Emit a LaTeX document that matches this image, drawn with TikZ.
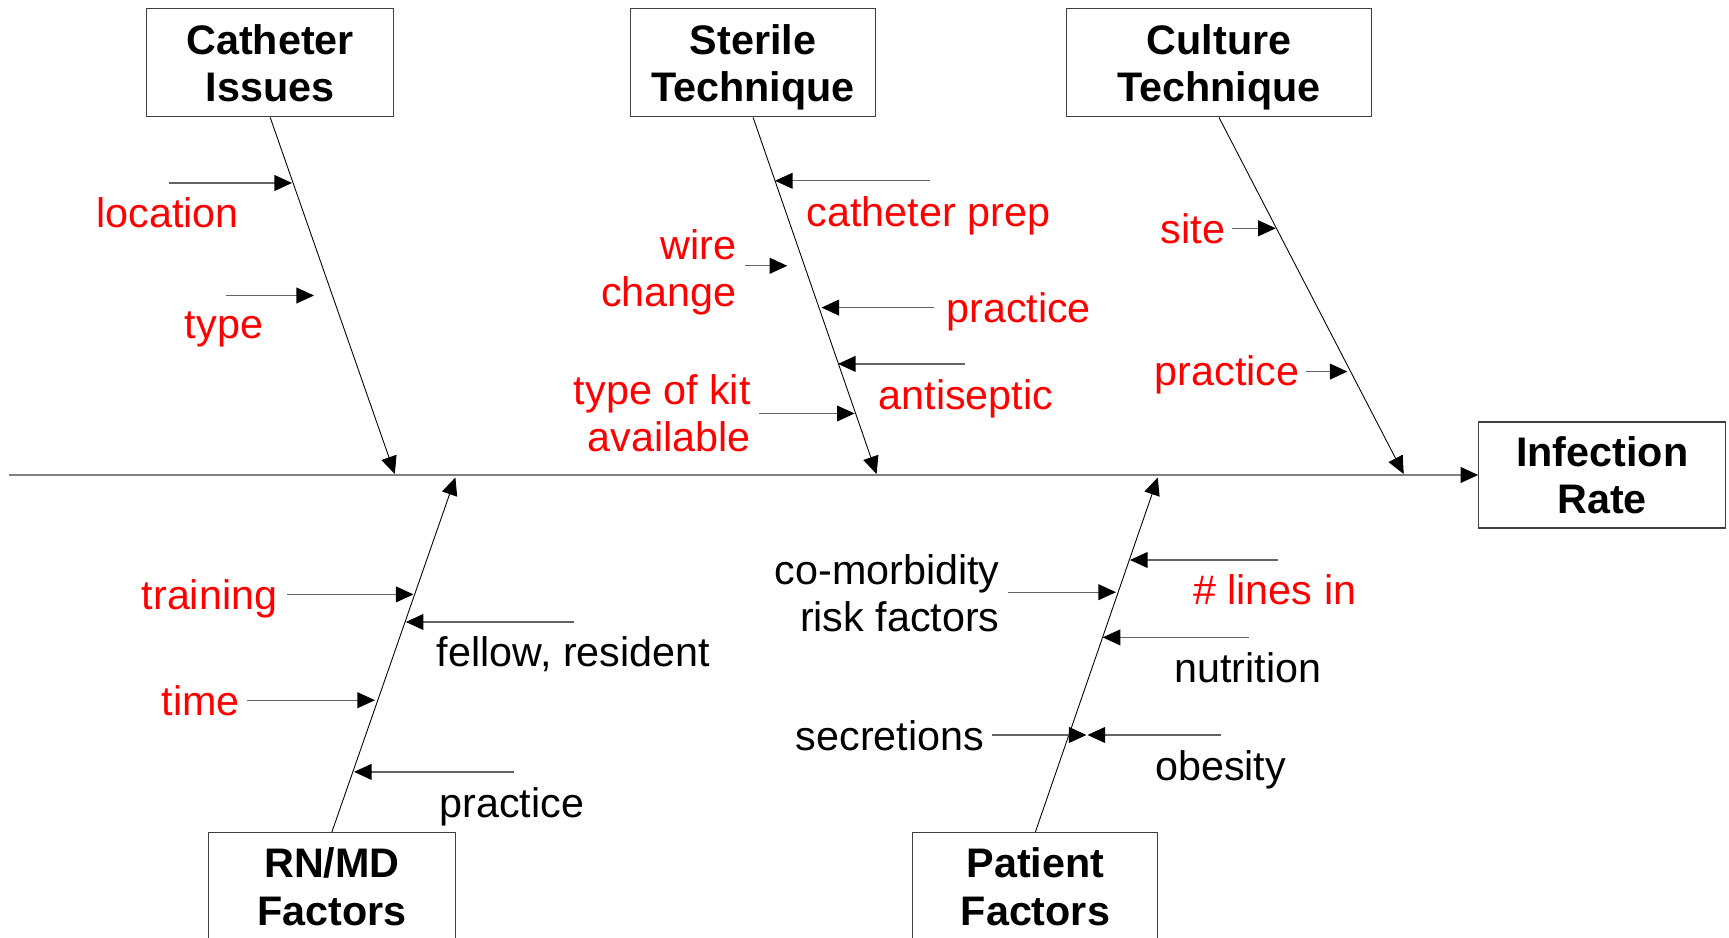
\documentclass[tikz,border=0pt]{standalone}
\usepackage{fontspec}
\setmainfont{Liberation Sans}
\usepackage{tikz}
\usetikzlibrary{arrows.meta}
\definecolor{boxline}{RGB}{64,64,64}
\definecolor{spinegray}{RGB}{128,128,128}
\definecolor{subgray}{RGB}{100,100,100}
\tikzset{
  font={\fontsize{23.5pt}{27pt}\selectfont}}

\begin{document}
\begin{tikzpicture}[scale=0.2]
\tikzstyle{every node}+=[inner sep=0pt, text depth=0pt]
\tikzstyle{cause}=[draw=boxline, line width=0.6pt, minimum width=4.94cm, minimum height=2.16cm, align=center, font={\fontsize{23.5pt}{27pt}\selectfont\bfseries}]
\tikzstyle{rlabel}=[text=red]
\tikzstyle{blabel}=[text=black]
\tikzstyle{spine}=[draw=spinegray, line width=0.8pt, -{Triangle[length=10pt,width=9pt,color=black]}]
\tikzstyle{bone}=[draw=black, line width=0.5pt, -{Triangle[length=10pt,width=9pt]}]
\tikzstyle{sub}=[draw=subgray, line width=0.7pt, -{Triangle[length=10pt,width=9pt,color=black]}]
\useasboundingbox (0,0) rectangle (172.9,-93.8);
% cause boxes
\node [cause] (cath) at (27.02,-6.29) {Catheter\\Issues};
\node [cause, minimum width=4.9cm] (ster) at (75.31,-6.29) {Sterile\\Technique};
\node [cause, minimum width=6.11cm] (cult) at (121.9,-6.29) {Culture\\Technique};
\node [cause, minimum height=2.12cm] (rate) at (160.22,-47.5) {Infection\\Rate};
\node [cause] (rnmd) at (33.19,-88.65) {RN/MD\\Factors};
\node [cause, minimum width=4.9cm] (pat) at (103.54,-88.65) {Patient\\Factors};
% spine and bones
\coordinate (head) at (0.88,-47.5);
\draw [spine] (head) -- (rate);
\coordinate (cathend) at (39.48,-47.4);
\coordinate (sterend) at (87.66,-47.4);
\coordinate (cultend) at (140.37,-47.4);
\coordinate (rnmdend) at (45.54,-47.75);
\coordinate (patend) at (115.78,-47.75);
\draw [bone] (cath.south) -- (cathend);
\draw [bone] (ster.south) -- (sterend);
\draw [bone] (cult.south) -- (cultend);
\draw [bone] (rnmd.north) -- (rnmdend);
\draw [bone] (pat.north) -- (patend);
% catheter issues
\node [rlabel] (loc) at (16.76,-21.28) {location};
\node [rlabel] (typ) at (22.4,-32.5) {type};
\coordinate (loc0) at (16.87,-18.3); \coordinate (loc1) at (29.2,-18.3);
\coordinate (typ0) at (22.6,-29.55); \coordinate (typ1) at (31.4,-29.55);
\draw [sub] (loc0) -- (loc1);
\draw [sub] (typ0) -- (typ1);
% sterile technique
\node [rlabel] (prep) at (92.85,-21.17) {catheter prep};
\node [rlabel, align=right, anchor=east] (wire) at (73.7,-26.8) {wire\\change};
\node [rlabel, anchor=west] (sprac) at (94.6,-30.76) {practice};
\node [rlabel] (anti) at (96.6,-39.48) {antiseptic};
\node [rlabel, align=right, anchor=east] (kit) at (75.1,-41.3) {type of kit\\available};
\coordinate (prep0) at (92.96,-18.08); \coordinate (prep1) at (77.5,-18.08);
\coordinate (wire0) at (74.54,-26.58); \coordinate (wire1) at (78.73,-26.58);
\coordinate (sprac0) at (93.4,-30.76); \coordinate (sprac1) at (82.15,-30.76);
\coordinate (anti0) at (96.49,-36.39); \coordinate (anti1) at (83.8,-36.39);
\coordinate (kit0) at (75.87,-41.35); \coordinate (kit1) at (85.46,-41.35);
\draw [sub] (prep0) -- (prep1);
\draw [sub] (wire0) -- (wire1);
\draw [sub] (sprac0) -- (sprac1);
\draw [sub] (anti0) -- (anti1);
\draw [sub] (kit0) -- (kit1);
% culture technique
\node [rlabel] (site) at (119.3,-22.83) {site};
\node [rlabel] (cprac) at (122.7,-37.05) {practice};
\coordinate (site0) at (123.17,-22.83); \coordinate (site1) at (127.58,-22.83);
\coordinate (cprac0) at (130.56,-37.16); \coordinate (cprac1) at (134.75,-37.16);
\draw [sub] (site0) -- (site1);
\draw [sub] (cprac0) -- (cprac1);
% rn/md factors
\node [rlabel] (train) at (20.95,-59.44) {training};
\node [blabel] (fell) at (57.34,-65.17) {fellow, resident};
\node [rlabel] (time) at (20.07,-70.02) {time};
\node [blabel] (rprac) at (51.17,-80.28) {practice};
\coordinate (train0) at (28.67,-59.44); \coordinate (train1) at (41.35,-59.44);
\coordinate (fell0) at (57.45,-62.2); \coordinate (fell1) at (40.58,-62.2);
\coordinate (time0) at (24.7,-70.02); \coordinate (time1) at (37.5,-70.02);
\coordinate (rprac0) at (51.39,-77.19); \coordinate (rprac1) at (35.4,-77.19);
\draw [sub] (train0) -- (train1);
\draw [sub] (fell0) -- (fell1);
\draw [sub] (time0) -- (time1);
\draw [sub] (rprac0) -- (rprac1);
% patient factors
\node [blabel, align=right, anchor=east] (como) at (100.0,-59.3) {co-morbidity\\risk factors};
\node [rlabel] (lines) at (127.47,-59.0) {\# lines in};
\node [blabel] (nutr) at (124.8,-66.8) {nutrition};
\node [blabel] (secr) at (88.99,-73.55) {secretions};
\node [blabel] (obes) at (122.07,-76.53) {obesity};
\coordinate (como0) at (100.79,-59.22); \coordinate (como1) at (111.6,-59.22);
\coordinate (lines0) at (127.8,-56.0); \coordinate (lines1) at (113.0,-56.0);
\coordinate (nutr0) at (124.94,-63.74); \coordinate (nutr1) at (110.27,-63.74);
\coordinate (secr0) at (99.24,-73.5); \coordinate (secr1) at (108.65,-73.5);
\coordinate (obes0) at (122.07,-73.5); \coordinate (obes1) at (108.75,-73.5);
\draw [sub] (como0) -- (como1);
\draw [sub] (lines0) -- (lines1);
\draw [sub] (nutr0) -- (nutr1);
\draw [sub] (secr0) -- (secr1);
\draw [sub] (obes0) -- (obes1);
\end{tikzpicture}
\end{document}
